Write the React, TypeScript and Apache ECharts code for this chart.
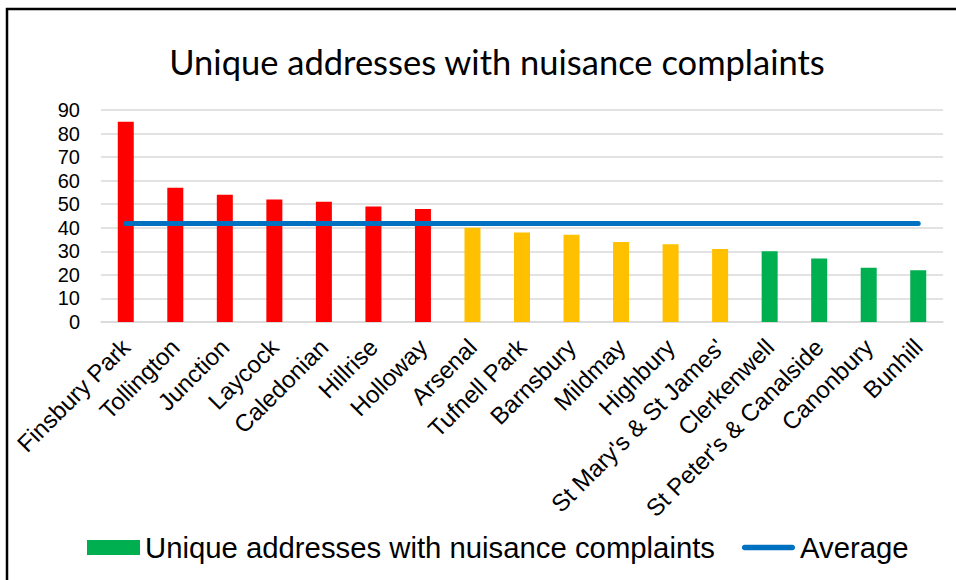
import React, { useEffect, useRef } from "react";
import * as echarts from "echarts";

const categories = [
  "Finsbury Park",
  "Tollington",
  "Junction",
  "Laycock",
  "Caledonian",
  "Hillrise",
  "Holloway",
  "Arsenal",
  "Tufnell Park",
  "Barnsbury",
  "Mildmay",
  "Highbury",
  "St Mary's & St James'",
  "Clerkenwell",
  "St Peter's & Canalside",
  "Canonbury",
  "Bunhill",
];

const complaints = [85, 57, 54, 52, 51, 49, 48, 40, 38, 37, 34, 33, 31, 30, 27, 23, 22];

const bands = [
  "high", "high", "high", "high", "high", "high", "high",
  "mid", "mid", "mid", "mid", "mid", "mid",
  "low", "low", "low", "low",
];

const average = [
  41.8, 41.8, 41.8, 41.8, 41.8, 41.8, 41.8, 41.8, 41.8,
  41.8, 41.8, 41.8, 41.8, 41.8, 41.8, 41.8, 41.8,
];

const yTicks = { min: 0, max: 90, interval: 10 };

const bandColors: Record<string, string> = {
  high: "#FF0000",
  mid: "#FFC000",
  low: "#00B050",
};

const SERIES_BAR = "Unique addresses with nuisance complaints";
const SERIES_AVG = "Average";

export default function App() {
  const ref = useRef<HTMLDivElement>(null);

  useEffect(() => {
    if (!ref.current) return;
    const chart = echarts.init(ref.current, undefined, { renderer: "svg" });
    const axisFont = "'Liberation Sans', Arial, sans-serif";
    chart.setOption({
      animation: false,
      backgroundColor: "#ffffff",
      title: {
        text: "Unique addresses with nuisance complaints",
        left: 492,
        top: 39,
        textAlign: "center",
        textStyle: {
          fontFamily: "Lato, 'Open Sans', sans-serif",
          fontWeight: "normal",
          fontSize: 34.5,
          color: "#000000",
        },
      },
      legend: {
        left: 82,
        top: 528,
        itemWidth: 53,
        itemHeight: 15,
        itemGap: 27,
        symbolKeepAspect: true,
        textStyle: {
          fontFamily: axisFont,
          fontSize: 29.3,
          color: "#000000",
        },
        data: [
          { name: SERIES_BAR, icon: "rect" },
          {
            name: SERIES_AVG,
            icon: "path://M3,0 H54 A3,3 0 0 1 54,6 H3 A3,3 0 0 1 3,0 Z",
          },
        ],
      },
      grid: {
        left: 101,
        right: 13,
        top: 110,
        bottom: 258,
        containLabel: false,
      },
      xAxis: {
        type: "category",
        data: categories,
        axisLine: { lineStyle: { color: "#D9D9D9", width: 1.5 } },
        axisTick: { show: false },
        axisLabel: {
          interval: 0,
          rotate: 45,
          margin: 21,
          fontFamily: axisFont,
          fontSize: 24,
          color: "#000000",
        },
      },
      yAxis: {
        type: "value",
        min: yTicks.min,
        max: yTicks.max,
        interval: yTicks.interval,
        axisLine: { show: false },
        axisTick: { show: false },
        splitLine: { lineStyle: { color: "#D9D9D9", width: 1.5 } },
        axisLabel: {
          margin: 21,
          fontFamily: axisFont,
          fontSize: 20,
          color: "#000000",
        },
      },
      series: [
        {
          name: SERIES_BAR,
          type: "bar",
          barWidth: 16,
          itemStyle: { color: "#00B050" },
          data: complaints.map((v, i) => ({
            value: v,
            itemStyle: { color: bandColors[bands[i]] },
          })),
        },
        {
          name: SERIES_AVG,
          type: "line",
          symbol: "none",
          z: 5,
          lineStyle: { color: "#0070C0", width: 5, cap: "round" },
          itemStyle: { color: "#0070C0" },
          data: average,
        },
      ],
      graphic: [
        {
          type: "line",
          shape: { x1: 6, y1: 9, x2: 956, y2: 9 },
          style: { stroke: "#000000", lineWidth: 2.5 },
        },
        {
          type: "line",
          shape: { x1: 7, y1: 8, x2: 7, y2: 580 },
          style: { stroke: "#000000", lineWidth: 2.5 },
        },
      ],
    });
    return () => chart.dispose();
  }, []);

  return (
    <div
      ref={ref}
      style={{ position: "absolute", left: 0, top: 0, width: 956, height: 580 }}
    />
  );
}
